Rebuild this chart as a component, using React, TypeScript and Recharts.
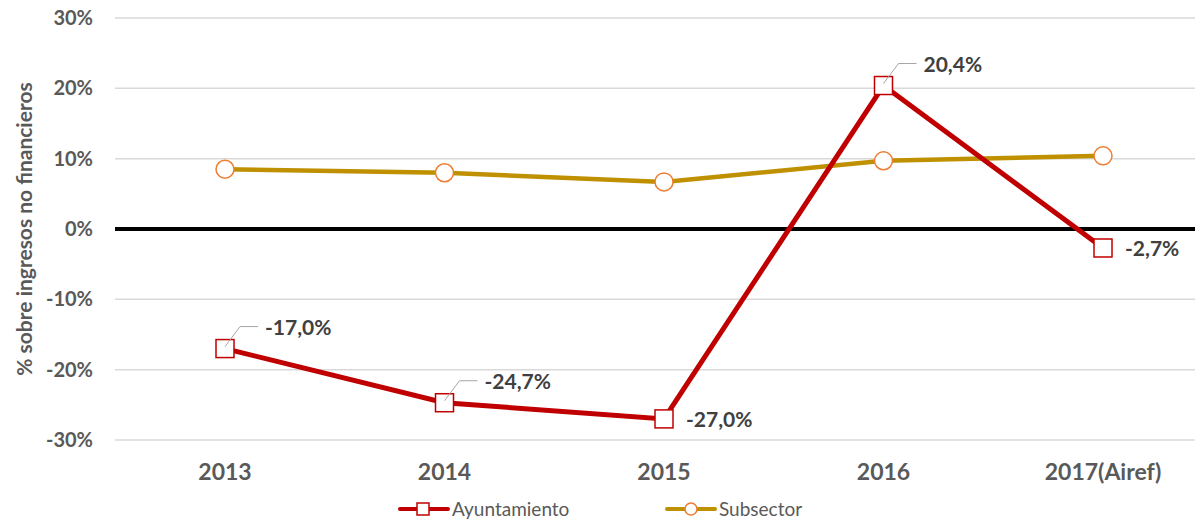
import { LineChart, Line, XAxis, YAxis, CartesianGrid, ReferenceLine, Label } from "recharts";

const years = ["2013", "2014", "2015", "2016", "2017(Airef)"];
const ayuntamiento = [-17.0, -24.7, -27.0, 20.4, -2.7];
const subsector = [8.5, 8.0, 6.7, 9.7, 10.4];
const yTicks = [-30, -20, -10, 0, 10, 20, 30];

// where each Ayuntamiento label sits relative to its marker
const labelPlacement = ["leader", "leader", "right", "leader", "right"];

const RED = "#C00000";
const GOLD = "#BF9000";
const ORANGE = "#ED7D31";
const FONT = "Lato, 'Open Sans', sans-serif";

const data = years.map((year, i) => ({
  year,
  ayuntamiento: ayuntamiento[i],
  subsector: subsector[i],
}));

const fmt = (v: number) => `${v.toFixed(1).replace(".", ",")}%`;

function SquareDot(props: any) {
  const { cx, cy } = props;
  if (cx == null || cy == null) return null;
  return <rect x={cx - 9} y={cy - 9} width={18} height={18} fill="#fff" stroke={RED} strokeWidth={1.5} />;
}

function CircleDot(props: any) {
  const { cx, cy } = props;
  if (cx == null || cy == null) return null;
  return <circle cx={cx} cy={cy} r={9} fill="#fff" stroke={ORANGE} strokeWidth={1.5} />;
}

function AyuntLabel(props: any) {
  const { x, y, value, index } = props;
  const mode = labelPlacement[index];
  const style = { fontFamily: FONT, fontSize: 21, fontWeight: 700, fill: "#404040" };
  if (mode === "right") {
    return (
      <text x={x + 22} y={y + 8} {...style}>
        {fmt(value)}
      </text>
    );
  }
  return (
    <g>
      <polyline
        points={`${x},${y - 2} ${x + 15},${y - 22} ${x + 33},${y - 22}`}
        fill="none"
        stroke="#A6A6A6"
        strokeWidth={1}
      />
      <text x={x + 40} y={y - 14} {...style}>
        {fmt(value)}
      </text>
    </g>
  );
}

function LegendBox() {
  const items = [
    { name: "Ayuntamiento", color: RED, shape: "square", x: 400 },
    { name: "Subsector", color: GOLD, shape: "circle", x: 667 },
  ];
  return (
    <svg width={1197} height={30} style={{ position: "absolute", left: 0, top: 494 }}>
      {items.map((it) => (
        <g key={it.name}>
          <line x1={it.x} y1={15} x2={it.x + 48} y2={15} stroke={it.color} strokeWidth={4} strokeLinecap="round" />
          {it.shape === "square" ? (
            <rect x={it.x + 17} y={9} width={12} height={12} fill="#fff" stroke={RED} strokeWidth={1.5} />
          ) : (
            <circle cx={it.x + 24} cy={15} r={6} fill="#fff" stroke={ORANGE} strokeWidth={1.5} />
          )}
          <text x={it.x + 52} y={22} fontFamily={FONT} fontSize={19} fill="#595959">
            {it.name}
          </text>
        </g>
      ))}
    </svg>
  );
}

export default function App() {
  return (
    <div style={{ position: "absolute", left: 0, top: 0, width: 1197, height: 524, background: "#fff" }}>
      <LineChart width={1197} height={524} data={data} margin={{ top: 18, right: 2, bottom: 54, left: 0 }}>
        <CartesianGrid vertical={false} stroke="#D9D9D9" strokeWidth={1.5} />
        <XAxis
          dataKey="year"
          height={30}
          axisLine={false}
          tickLine={false}
          tickSize={0}
          tickMargin={24}
          padding={{ left: 110, right: 92 }}
          tick={{ fill: "#595959", fontSize: 23, fontWeight: 700, fontFamily: FONT }}
        />
        <YAxis
          width={115}
          domain={[-30, 30]}
          ticks={yTicks}
          axisLine={false}
          tickLine={false}
          tickSize={0}
          tickMargin={22}
          tickFormatter={(v) => `${v}%`}
          tick={{ fill: "#595959", fontSize: 20, fontWeight: 700, fontFamily: FONT }}
        >
          <Label
            value="% sobre ingresos no financieros"
            angle={-90}
            position="insideLeft"
            offset={25}
            style={{ textAnchor: "middle", fill: "#595959", fontSize: 21, fontWeight: 700, fontFamily: FONT }}
          />
        </YAxis>
        <ReferenceLine y={0} stroke="#000" strokeWidth={4} />
        <Line
          dataKey="subsector"
          stroke={GOLD}
          strokeWidth={4.5}
          dot={<CircleDot />}
          isAnimationActive={false}
        />
        <Line
          dataKey="ayuntamiento"
          stroke={RED}
          strokeWidth={5}
          dot={<SquareDot />}
          label={<AyuntLabel />}
          isAnimationActive={false}
        />
      </LineChart>
      <LegendBox />
    </div>
  );
}
